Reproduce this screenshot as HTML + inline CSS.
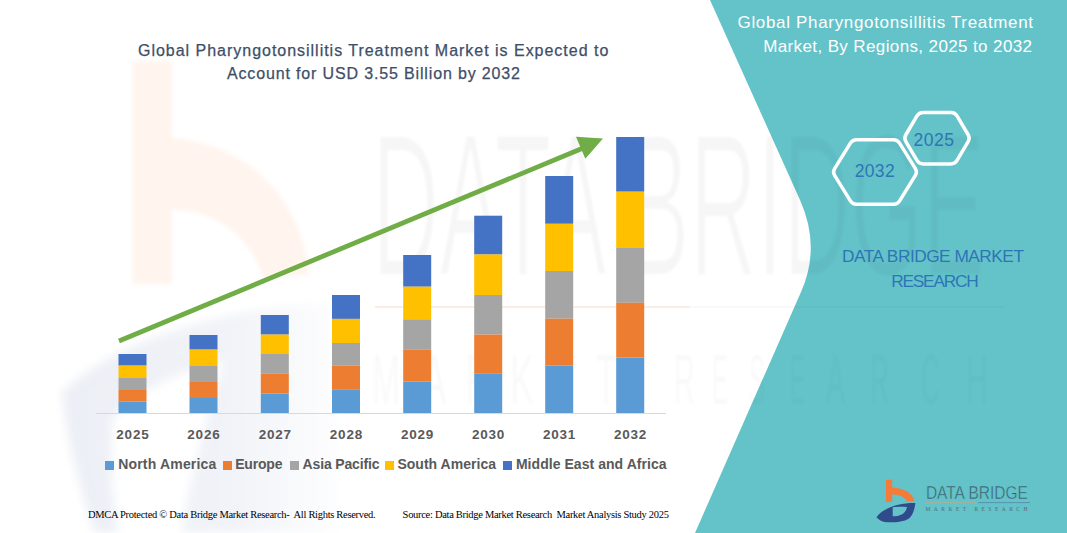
<!DOCTYPE html>
<html><head><meta charset="utf-8">
<style>
html,body{margin:0;padding:0;}
body{width:1067px;height:533px;position:relative;overflow:hidden;background:#fff;font-family:"Liberation Sans",sans-serif;}
.abs{position:absolute;white-space:nowrap;}
svg{position:absolute;left:0;top:0;}
.yr{color:#595959;font-size:13.5px;font-weight:bold;line-height:13.5px;letter-spacing:0.75px;}
</style></head>
<body>
<svg width="1067" height="533" viewBox="0 0 1067 533">
  <defs>
    <filter id="blur2" x="-20%" y="-20%" width="140%" height="140%"><feGaussianBlur stdDeviation="5"/></filter>
    <filter id="erode" x="-5%" y="-5%" width="110%" height="110%"><feMorphology operator="erode" radius="1.3"/><feGaussianBlur stdDeviation="1.2"/></filter>
    <linearGradient id="swg" gradientUnits="userSpaceOnUse" x1="60" y1="0" x2="350" y2="0"><stop offset="0" stop-color="#ECEFF6"/><stop offset="0.6" stop-color="#F1F3F8"/><stop offset="1" stop-color="#FFFFFF"/></linearGradient>
    <filter id="blur1" x="-20%" y="-20%" width="140%" height="140%"><feGaussianBlur stdDeviation="2"/></filter>
    <filter id="soft" x="-20%" y="-20%" width="140%" height="140%"><feGaussianBlur stdDeviation="1"/></filter>
  </defs>
  <g filter="url(#blur1)"><g transform="translate(133,61) scale(6.2,10)">
    <path d="M0 0 L6.2 0 L6.2 7.7 C18 8.3 27 13.3 28.4 21.3 L21 21.8 C19 17.3 13 14.9 6.2 14.9 L6.2 22.3 L0 22.3 Z" fill="#FFF4EE"/>
  </g></g>
  <g id="bwm" filter="url(#blur2)">
    <path d="M62 392 C120 335 250 303 345 303 L345 533 L95 533 C80 490 66 440 62 392 Z M112 420 C135 392 175 372 225 360 C205 420 190 480 182 533 L118 533 C112 500 110 460 112 420 Z" fill="url(#swg)" fill-rule="evenodd"/>
  </g>
  <path d="M710 0 L1067 0 L1067 533 L695 533 L801 292 Q821 247 800 200 Z" fill="#63C3C9"/>
  <g fill="#000" fill-opacity="0.035" font-family="'Liberation Sans',sans-serif" filter="url(#erode)">
    <text x="372" y="275" font-size="202" textLength="613" lengthAdjust="spacingAndGlyphs">DATA BRIDGE</text>
  </g>
  <g fill="#000" fill-opacity="0.022" font-family="'Liberation Sans',sans-serif" filter="url(#soft)">
    <text x="372" y="403.5" font-size="70" textLength="28" lengthAdjust="spacingAndGlyphs">M</text>
<text x="422" y="403.5" font-size="70" textLength="24" lengthAdjust="spacingAndGlyphs">A</text>
<text x="466" y="403.5" font-size="70" textLength="22" lengthAdjust="spacingAndGlyphs">R</text>
<text x="510" y="403.5" font-size="70" textLength="24" lengthAdjust="spacingAndGlyphs">K</text>
<text x="555" y="403.5" font-size="70" textLength="18" lengthAdjust="spacingAndGlyphs">E</text>
<text x="596" y="403.5" font-size="70" textLength="20" lengthAdjust="spacingAndGlyphs">T</text>
<text x="674" y="403.5" font-size="70" textLength="21" lengthAdjust="spacingAndGlyphs">R</text>
<text x="712" y="403.5" font-size="70" textLength="16" lengthAdjust="spacingAndGlyphs">E</text>
<text x="749" y="403.5" font-size="70" textLength="16" lengthAdjust="spacingAndGlyphs">S</text>
<text x="790" y="403.5" font-size="70" textLength="15" lengthAdjust="spacingAndGlyphs">E</text>
<text x="826" y="403.5" font-size="70" textLength="19" lengthAdjust="spacingAndGlyphs">A</text>
<text x="870" y="403.5" font-size="70" textLength="19" lengthAdjust="spacingAndGlyphs">R</text>
<text x="921" y="403.5" font-size="70" textLength="19" lengthAdjust="spacingAndGlyphs">C</text>
<text x="966" y="403.5" font-size="70" textLength="22" lengthAdjust="spacingAndGlyphs">H</text>
  </g>
  <line x1="375" y1="307" x2="690" y2="307" stroke="#F8DCCB" stroke-opacity="0.5" stroke-width="2"/>
  <line x1="690" y1="307" x2="1005" y2="307" stroke="#000" stroke-opacity="0.025" stroke-width="2"/>
  <line x1="96" y1="413.5" x2="666" y2="413.5" stroke="#D9D9D9" stroke-width="1"/>
<rect x="118.5" y="354.0" width="28" height="11.6" fill="#4472C4"/>
<rect x="118.5" y="365.6" width="28" height="12.4" fill="#FFC000"/>
<rect x="118.5" y="378.0" width="28" height="12.0" fill="#A5A5A5"/>
<rect x="118.5" y="390.0" width="28" height="11.6" fill="#ED7D31"/>
<rect x="118.5" y="401.6" width="28" height="11.4" fill="#5B9BD5"/>
<rect x="189.5" y="335.0" width="28" height="14.6" fill="#4472C4"/>
<rect x="189.5" y="349.6" width="28" height="16.4" fill="#FFC000"/>
<rect x="189.5" y="366.0" width="28" height="16.0" fill="#A5A5A5"/>
<rect x="189.5" y="382.0" width="28" height="16.0" fill="#ED7D31"/>
<rect x="189.5" y="398.0" width="28" height="15.0" fill="#5B9BD5"/>
<rect x="260.8" y="315.0" width="28" height="19.6" fill="#4472C4"/>
<rect x="260.8" y="334.6" width="28" height="19.4" fill="#FFC000"/>
<rect x="260.8" y="354.0" width="28" height="19.8" fill="#A5A5A5"/>
<rect x="260.8" y="373.8" width="28" height="19.7" fill="#ED7D31"/>
<rect x="260.8" y="393.5" width="28" height="19.5" fill="#5B9BD5"/>
<rect x="332.0" y="295.0" width="28" height="23.9" fill="#4472C4"/>
<rect x="332.0" y="318.9" width="28" height="24.1" fill="#FFC000"/>
<rect x="332.0" y="343.0" width="28" height="22.4" fill="#A5A5A5"/>
<rect x="332.0" y="365.4" width="28" height="24.4" fill="#ED7D31"/>
<rect x="332.0" y="389.8" width="28" height="23.2" fill="#5B9BD5"/>
<rect x="403.2" y="255.0" width="28" height="31.7" fill="#4472C4"/>
<rect x="403.2" y="286.7" width="28" height="32.6" fill="#FFC000"/>
<rect x="403.2" y="319.3" width="28" height="30.5" fill="#A5A5A5"/>
<rect x="403.2" y="349.8" width="28" height="31.8" fill="#ED7D31"/>
<rect x="403.2" y="381.6" width="28" height="31.4" fill="#5B9BD5"/>
<rect x="474.2" y="215.7" width="28" height="38.8" fill="#4472C4"/>
<rect x="474.2" y="254.5" width="28" height="40.5" fill="#FFC000"/>
<rect x="474.2" y="295.0" width="28" height="39.6" fill="#A5A5A5"/>
<rect x="474.2" y="334.6" width="28" height="39.2" fill="#ED7D31"/>
<rect x="474.2" y="373.8" width="28" height="39.2" fill="#5B9BD5"/>
<rect x="545.2" y="176.0" width="28" height="47.8" fill="#4472C4"/>
<rect x="545.2" y="223.8" width="28" height="47.2" fill="#FFC000"/>
<rect x="545.2" y="271.0" width="28" height="47.7" fill="#A5A5A5"/>
<rect x="545.2" y="318.7" width="28" height="46.9" fill="#ED7D31"/>
<rect x="545.2" y="365.6" width="28" height="47.4" fill="#5B9BD5"/>
<rect x="616.2" y="137.0" width="28" height="54.7" fill="#4472C4"/>
<rect x="616.2" y="191.7" width="28" height="55.7" fill="#FFC000"/>
<rect x="616.2" y="247.4" width="28" height="55.4" fill="#A5A5A5"/>
<rect x="616.2" y="302.8" width="28" height="54.7" fill="#ED7D31"/>
<rect x="616.2" y="357.5" width="28" height="55.5" fill="#5B9BD5"/>
  <line x1="119" y1="341" x2="582" y2="148.5" stroke="#70AD47" stroke-width="4.8"/>
  <path d="M576 136.8 L603 138.5 L585.3 158.8 Z" fill="#70AD47"/>
  <path d="M834.61 175.40 Q832.50 172.00 834.61 168.60 L850.39 143.10 Q852.50 139.70 856.50 139.70 L893.50 139.70 Q897.50 139.70 899.61 143.10 L915.39 168.60 Q917.50 172.00 915.39 175.40 L899.61 200.90 Q897.50 204.30 893.50 204.30 L856.50 204.30 Q852.50 204.30 850.39 200.90 Z" fill="none" stroke="#fff" stroke-width="3.5" stroke-linejoin="round"/>
  <path d="M905.84 141.64 Q903.80 138.20 905.84 134.76 L916.96 115.94 Q919.00 112.50 923.00 112.50 L951.00 112.50 Q955.00 112.50 957.04 115.94 L968.16 134.76 Q970.20 138.20 968.16 141.64 L957.04 160.46 Q955.00 163.90 951.00 163.90 L923.00 163.90 Q919.00 163.90 916.96 160.46 Z" fill="none" stroke="#fff" stroke-width="3.5" stroke-linejoin="round"/>
  <g id="logo">
    <g transform="translate(886,479.7)">
    <path d="M0 0 L6.2 0 L6.2 7.7 C18 8.3 27 13.3 28.4 21.3 L21 21.8 C19 17.3 13 14.9 6.2 14.9 L6.2 22.3 L0 22.3 Z" fill="#F47B3A"/>
    <path d="M-9.5 37.5 C-3 28 14 22.8 29.4 23.2 C28.5 31 26 36.5 23 38.7 C18 41.8 12 42.5 2 42.5 C-3 42.5 -7 40.5 -9.5 37.5 Z M6.7 27.5 L6.7 36.6 C14 36.6 19.5 34.5 21 27.3 C15 26.8 10 27 6.7 27.5 Z" fill="#2F4B8C" fill-rule="evenodd"/>
    </g>
    <text x="925.9" y="499" font-size="17.8" font-family="'Liberation Sans',sans-serif" fill="#3B5E6B" stroke="#63C3C9" stroke-width="0.45" textLength="102" lengthAdjust="spacingAndGlyphs">DATA BRIDGE</text>
    <line x1="925" y1="502.6" x2="976" y2="502.6" stroke="#C9A88A" stroke-width="0.7"/>
    <line x1="978" y1="502.6" x2="1030" y2="502.6" stroke="#5580A8" stroke-width="0.7"/>
    <text x="925.5" y="511.4" font-size="5.5" font-family="'Liberation Serif',serif" fill="#5A6A70" textLength="102" lengthAdjust="spacing">MARKET RESEARCH</text>
  </g>
</svg>
<div id="t1" class="abs" style="left:138.0px;top:42.96px;font-family:'Liberation Sans',sans-serif;font-size:16px;line-height:16px;color:#3E4E68;letter-spacing:0.98px;font-weight:normal;-webkit-text-stroke:0.25px #3E4E68;">Global Pharyngotonsillitis Treatment Market is Expected to</div>
<div id="t2" class="abs" style="left:227.0px;top:66.46px;font-family:'Liberation Sans',sans-serif;font-size:16px;line-height:16px;color:#3E4E68;letter-spacing:0.85px;font-weight:normal;-webkit-text-stroke:0.25px #3E4E68;">Account for USD 3.55 Billion by 2032</div>
<div id="r1" class="abs" style="left:737.5px;top:13.81px;font-family:'Liberation Sans',sans-serif;font-size:17px;line-height:17px;color:#FFFFFF;letter-spacing:0.67px;font-weight:normal;">Global Pharyngotonsillitis Treatment</div>
<div id="r2" class="abs" style="left:763.2px;top:37.51px;font-family:'Liberation Sans',sans-serif;font-size:17px;line-height:17px;color:#FFFFFF;letter-spacing:0.38px;font-weight:normal;">Market, By Regions, 2025 to 2032</div>
<div class="abs yr" style="left:102.9px;width:60px;text-align:center;top:427.57px;">2025</div>
<div class="abs yr" style="left:173.9px;width:60px;text-align:center;top:427.57px;">2026</div>
<div class="abs yr" style="left:245.2px;width:60px;text-align:center;top:427.57px;">2027</div>
<div class="abs yr" style="left:316.4px;width:60px;text-align:center;top:427.57px;">2028</div>
<div class="abs yr" style="left:387.6px;width:60px;text-align:center;top:427.57px;">2029</div>
<div class="abs yr" style="left:458.6px;width:60px;text-align:center;top:427.57px;">2030</div>
<div class="abs yr" style="left:529.6px;width:60px;text-align:center;top:427.57px;">2031</div>
<div class="abs yr" style="left:600.6px;width:60px;text-align:center;top:427.57px;">2032</div>
<div class="abs" style="left:105px;top:461.3px;width:8.8px;height:8.3px;background:#5B9BD5"></div>
<div id="" class="abs" style="left:118.2px;top:457.45px;font-family:'Liberation Sans',sans-serif;font-size:14px;line-height:14px;color:#595959;letter-spacing:0.18px;font-weight:bold;">North America</div>
<div class="abs" style="left:223.1px;top:461.3px;width:8.8px;height:8.3px;background:#ED7D31"></div>
<div id="" class="abs" style="left:235.2px;top:457.45px;font-family:'Liberation Sans',sans-serif;font-size:14px;line-height:14px;color:#595959;letter-spacing:-0.2px;font-weight:bold;">Europe</div>
<div class="abs" style="left:290px;top:461.3px;width:8.8px;height:8.3px;background:#A5A5A5"></div>
<div id="" class="abs" style="left:302.6px;top:457.45px;font-family:'Liberation Sans',sans-serif;font-size:14px;line-height:14px;color:#595959;letter-spacing:-0.16px;font-weight:bold;">Asia Pacific</div>
<div class="abs" style="left:385px;top:461.3px;width:8.8px;height:8.3px;background:#FFC000"></div>
<div id="" class="abs" style="left:397.4px;top:457.45px;font-family:'Liberation Sans',sans-serif;font-size:14px;line-height:14px;color:#595959;letter-spacing:0.03px;font-weight:bold;">South America</div>
<div class="abs" style="left:503.4px;top:461.3px;width:8.8px;height:8.3px;background:#4472C4"></div>
<div id="" class="abs" style="left:515.9px;top:457.45px;font-family:'Liberation Sans',sans-serif;font-size:14px;line-height:14px;color:#595959;letter-spacing:0.05px;font-weight:bold;">Middle East and Africa</div>
<div id="f1" class="abs" style="left:88.0px;top:509.51px;font-family:'Liberation Serif',serif;font-size:10.5px;line-height:10.5px;color:#000;letter-spacing:-0.3px;font-weight:normal;">DMCA Protected © Data Bridge Market Research-&nbsp; All Rights Reserved.</div>
<div id="f2" class="abs" style="left:402.6px;top:509.51px;font-family:'Liberation Serif',serif;font-size:10.5px;line-height:10.5px;color:#000;letter-spacing:-0.3px;font-weight:normal;">Source: Data Bridge Market Research&nbsp; Market Analysis Study 2025</div>
<div id="h1" class="abs" style="left:854.8px;top:163.09px;font-family:'Liberation Sans',sans-serif;font-size:17.5px;line-height:17.5px;color:#2E75B6;letter-spacing:0.3px;font-weight:normal;">2032</div>
<div id="h2" class="abs" style="left:913.6px;top:131.59px;font-family:'Liberation Sans',sans-serif;font-size:17.5px;line-height:17.5px;color:#2E75B6;letter-spacing:0.45px;font-weight:normal;">2025</div>
<div id="d1" class="abs" style="left:842.0px;top:247.96px;font-family:'Liberation Sans',sans-serif;font-size:17.3px;line-height:17.3px;color:#2E75B6;letter-spacing:-0.5px;font-weight:normal;">DATA BRIDGE MARKET</div>
<div id="d2" class="abs" style="left:891.2px;top:272.56px;font-family:'Liberation Sans',sans-serif;font-size:17.3px;line-height:17.3px;color:#2E75B6;letter-spacing:-1.2px;font-weight:normal;">RESEARCH</div>
</body></html>
